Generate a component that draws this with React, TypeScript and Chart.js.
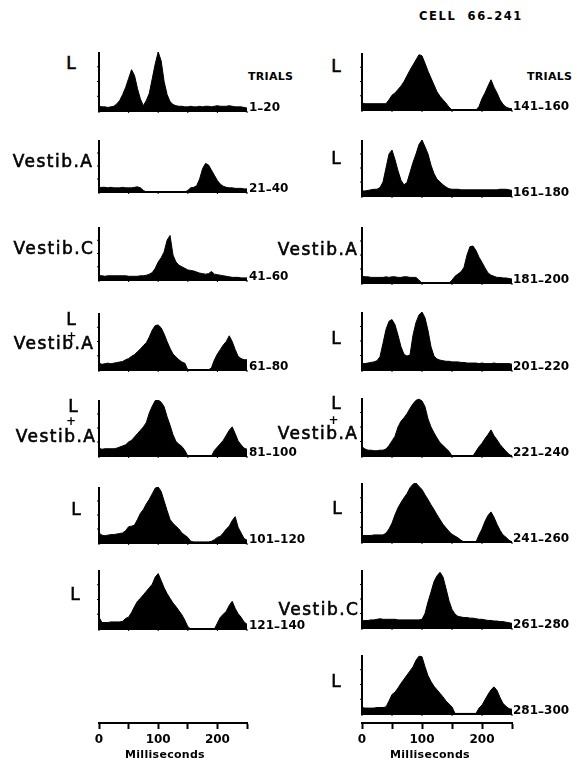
import React, { useEffect, useRef } from "react";
import { Chart, registerables } from "chart.js";

Chart.register(...registerables);

// ---------- DATA ----------
const TIMES_MS = [
  0, 5, 10, 15, 20, 25, 30, 35, 40, 45,
  50, 55, 60, 65, 70, 75, 80, 85, 90, 95,
  100, 105, 110, 115, 120, 125, 130, 135, 140, 145,
  150, 155, 160, 165, 170, 175, 180, 185, 190, 195,
  200, 205, 210, 215, 220, 225, 230, 235, 240, 245,
  250,
];

// responses, % of panel height
const TRIALS_1_20 = [8,7,7,6,7,8,12,18,28,40, 55,70,60,38,20,9,18,30,55,80, 100,85,50,28,16,11,9,8,8,7, 7,8,7,7,8,7,8,8,7,8, 9,8,8,8,9,8,7,7,7,6, 5];
const TRIALS_21_40 = [8,9,9,8,9,8,8,8,9,8, 8,8,9,10,8,3,0,0,0,0, 0,0,0,0,0,0,0,0,0,0, 3,8,9,12,25,45,55,52,42,32, 22,15,11,9,8,8,7,7,7,6, 6];
const TRIALS_41_60 = [8,8,7,8,8,8,8,8,8,8, 7,7,7,7,8,8,9,11,14,22, 34,42,53,75,84,47,34,28,25,22, 19,18,17,15,13,12,11,12,16,11, 10,9,8,7,6,5,5,5,4,4, 4];
const TRIALS_61_80 = [12,10,11,12,11,12,13,14,15,18, 20,24,27,32,37,43,48,58,70,78, 79,74,63,50,38,28,23,18,14,12, 0,0,0,0,0,0,0,0,4,18, 28,36,44,50,60,50,36,24,20,18, 18];
const TRIALS_81_100 = [14,12,13,13,13,13,14,16,18,20, 25,28,34,40,46,52,60,77,89,99, 100,96,88,70,55,38,26,21,17,10, 0,0,0,0,0,0,0,0,0,10, 16,22,28,37,46,52,40,27,20,14, 12];
const TRIALS_101_120 = [18,14,13,14,15,15,16,17,18,22, 29,30,32,42,53,60,70,78,88,98, 100,92,75,58,42,35,30,25,18,14, 10,3,2,2,2,2,2,2,3,6, 10,12,18,25,30,40,47,28,18,8, 5];
const TRIALS_121_140 = [20,11,11,11,12,12,12,12,13,18, 20,28,38,47,52,58,64,70,76,88, 94,82,70,60,52,44,38,31,24,15, 4,0,0,0,0,0,0,0,0,0, 10,20,25,30,40,47,35,26,20,12, 8];
const TRIALS_141_160 = [12,11,11,11,11,11,11,11,11,18, 26,30,36,42,50,60,70,79,88,97, 95,82,68,56,44,32,24,18,12,5, 0,0,0,0,0,0,0,0,0,6, 20,30,42,53,40,30,18,10,5,3, 2];
const TRIALS_161_180 = [9,9,10,11,12,12,15,25,50,75, 82,65,45,28,20,24,42,60,75,92, 100,88,75,55,40,30,25,20,16,13, 12,12,12,11,11,11,11,11,11,11, 11,11,11,11,11,11,12,12,12,11, 10];
const TRIALS_181_200 = [12,11,11,10,10,10,10,10,11,10, 11,11,10,10,11,11,10,10,10,5, 0,0,0,0,0,0,0,0,0,0, 5,12,16,20,28,50,65,66,58,46, 37,27,18,14,12,10,10,9,9,8, 7];
const TRIALS_201_220 = [11,11,12,13,14,16,23,46,70,84, 87,78,60,40,27,24,26,60,82,95, 100,90,68,40,24,19,17,16,15,15, 14,14,14,13,13,12,12,12,12,11, 12,11,11,11,12,11,11,11,11,11, 10];
const TRIALS_221_240 = [16,12,10,10,9,9,10,10,12,18, 26,34,50,60,66,73,82,90,96,98, 95,85,64,50,40,31,23,18,13,8, 0,0,0,0,0,0,0,0,8,16, 22,30,37,45,35,28,20,14,8,3, 0];
const TRIALS_241_260 = [11,11,11,11,12,12,12,12,15,22, 32,46,58,67,75,82,92,98,100,94, 89,80,72,63,55,46,38,30,24,18, 13,10,7,3,0,0,0,0,0,12, 22,35,45,51,42,30,20,12,8,3, 0];
const TRIALS_261_280 = [12,13,13,14,14,15,16,15,15,15, 15,15,14,14,14,14,14,14,14,14, 15,25,45,62,80,90,96,88,68,47, 32,24,20,19,18,18,17,17,16,15, 15,14,13,13,12,12,11,11,10,9, 8];
const TRIALS_281_300 = [11,10,10,10,10,11,11,11,12,22, 33,37,44,52,59,66,73,80,91,98, 97,80,65,55,47,41,35,29,22,17, 12,1,1,1,1,1,1,1,1,10, 15,24,33,41,46,40,28,18,13,9, 8];

const AXIS_TICKS_MS = [0, 50, 100, 150, 200, 250];
const AXIS_LABELS_MS = [0, 100, 200];

// ---------- LAYOUT ----------
const FONT = "'DejaVu Sans', sans-serif";
const COL_LEFT = { areaLeft: 99, areaWidth: 148 };
const COL_RIGHT = { areaLeft: 362, areaWidth: 150 };
const AXIS_Y = 723;

type PanelSpec = { values: number[]; from: number; to: number; col: 0 | 1; top: number; base: number };

const PANELS: PanelSpec[] = [
  { values: TRIALS_1_20, from: 1, to: 20, col: 0, top: 52, base: 111 },
  { values: TRIALS_21_40, from: 21, to: 40, col: 0, top: 140, base: 192 },
  { values: TRIALS_41_60, from: 41, to: 60, col: 0, top: 227, base: 280 },
  { values: TRIALS_61_80, from: 61, to: 80, col: 0, top: 313, base: 370 },
  { values: TRIALS_81_100, from: 81, to: 100, col: 0, top: 400, base: 456 },
  { values: TRIALS_101_120, from: 101, to: 120, col: 0, top: 487, base: 543 },
  { values: TRIALS_121_140, from: 121, to: 140, col: 0, top: 570, base: 629 },
  { values: TRIALS_141_160, from: 141, to: 160, col: 1, top: 53, base: 110 },
  { values: TRIALS_161_180, from: 161, to: 180, col: 1, top: 140, base: 196 },
  { values: TRIALS_181_200, from: 181, to: 200, col: 1, top: 227, base: 283 },
  { values: TRIALS_201_220, from: 201, to: 220, col: 1, top: 312, base: 370 },
  { values: TRIALS_221_240, from: 221, to: 240, col: 1, top: 398, base: 456 },
  { values: TRIALS_241_260, from: 241, to: 260, col: 1, top: 483, base: 542 },
  { values: TRIALS_261_280, from: 261, to: 280, col: 1, top: 570, base: 628 },
  { values: TRIALS_281_300, from: 281, to: 300, col: 1, top: 655, base: 714 },
];

const histAxesPlugin = {
  id: "histAxes",
  afterDatasetsDraw(chart: any) {
    const { ctx } = chart;
    const x = chart.scales.x;
    const y = chart.scales.y;
    const x0 = x.getPixelForValue(0);
    const x1 = x.getPixelForValue(250);
    const yb = y.getPixelForValue(0);
    const yt = y.getPixelForValue(100);
    ctx.save();
    ctx.strokeStyle = "#000";
    ctx.lineWidth = 2;
    ctx.beginPath();
    ctx.moveTo(x0, yt);
    ctx.lineTo(x0, yb + 1);
    ctx.moveTo(x0 - 1, yb);
    ctx.lineTo(x1, yb);
    ctx.stroke();
    ctx.lineWidth = 1;
    ctx.beginPath();
    for (const t of AXIS_TICKS_MS) {
      const px = x.getPixelForValue(t);
      ctx.moveTo(px, yb);
      ctx.lineTo(px, yb + 2);
    }
    for (const v of [25, 50, 75]) {
      const py = y.getPixelForValue(v);
      ctx.moveTo(x0, py);
      ctx.lineTo(x0 - 2, py);
    }
    ctx.stroke();
    ctx.restore();
  },
};

function HistPanel({ spec }: { spec: PanelSpec }) {
  const ref = useRef<HTMLCanvasElement>(null);
  const col = spec.col === 0 ? COL_LEFT : COL_RIGHT;
  useEffect(() => {
    const chart = new Chart(ref.current as HTMLCanvasElement, {
      type: "line",
      data: {
        datasets: [
          {
            data: TIMES_MS.map((t, i) => ({ x: t, y: spec.values[i] })),
            borderColor: "#000",
            backgroundColor: "#000",
            borderWidth: 1,
            fill: "origin",
            pointRadius: 0,
            tension: 0,
          },
        ],
      },
      options: {
        responsive: false,
        animation: false,
        events: [],
        layout: { padding: { left: 4, right: 4, top: 2, bottom: 4 } },
        plugins: { legend: { display: false }, tooltip: { enabled: false } },
        scales: {
          x: { type: "linear", min: 0, max: 250, display: false },
          y: { min: 0, max: 100, display: false },
        },
      },
      plugins: [histAxesPlugin],
    } as any);
    return () => chart.destroy();
  }, [spec]);
  return (
    <canvas
      ref={ref}
      width={col.areaWidth + 8}
      height={spec.base - spec.top + 6}
      style={{ position: "absolute", left: col.areaLeft - 4, top: spec.top - 2 }}
    />
  );
}

function TimeAxis({ col }: { col: { areaLeft: number; areaWidth: number } }) {
  const ref = useRef<HTMLCanvasElement>(null);
  useEffect(() => {
    const chart = new Chart(ref.current as HTMLCanvasElement, {
      type: "line",
      data: { datasets: [] },
      options: {
        responsive: false,
        animation: false,
        events: [],
        layout: { padding: { left: 20, right: 20, top: 0, bottom: 0 } },
        plugins: { legend: { display: false }, tooltip: { enabled: false } },
        scales: {
          x: {
            type: "linear",
            min: 0,
            max: 250,
            afterBuildTicks: (s: any) => {
              s.ticks = AXIS_TICKS_MS.map((v) => ({ value: v }));
            },
            afterFit: (s: any) => {
              s.height = 37;
            },
            ticks: {
              autoSkip: false,
              maxRotation: 0,
              padding: 4,
              color: "#000",
              font: { family: FONT, size: 12, weight: "bold" },
              callback: (v: any) => (AXIS_LABELS_MS.includes(Number(v)) ? String(v) : ""),
            },
            grid: {
              display: true,
              drawOnChartArea: false,
              drawTicks: true,
              tickLength: 6,
              tickColor: "#000",
              tickWidth: 2,
            },
            border: { display: true, color: "#000", width: 2 },
            title: { display: false },
          },
          y: { display: false, min: 0, max: 1 },
        },
      },
    } as any);
    return () => chart.destroy();
  }, [col]);
  const top = AXIS_Y - 10;
  return (
    <canvas
      ref={ref}
      width={col.areaWidth + 40}
      height={760 - top}
      style={{ position: "absolute", left: col.areaLeft - 20, top }}
    />
  );
}

// ---------- TEXT ----------
const LBL = 17; // condition label font size
const LS = 1.5;
function Cond({ text, capTop, right, left }: { text: string; capTop: number; right?: number; left?: number }) {
  const style: any = {
    position: "absolute",
    top: capTop - 2,
    fontFamily: FONT,
    fontSize: LBL,
    lineHeight: `${LBL}px`,
    letterSpacing: `${LS}px`,
    whiteSpace: "nowrap",
    color: "#000",
    WebkitTextStroke: "0.6px #000",
  };
  if (right !== undefined) style.right = 576 - right - LS;
  if (left !== undefined) style.left = left - 1.7;
  return <div style={style}>{text}</div>;
}

function Plus({ cx, cy }: { cx: number; cy: number }) {
  return (
    <div
      style={{
        position: "absolute",
        left: cx - 10,
        top: cy - 6,
        width: 20,
        textAlign: "center",
        fontFamily: FONT,
        fontWeight: "bold",
        fontSize: 12,
        lineHeight: "12px",
        color: "#000",
      }}
    >
      +
    </div>
  );
}

function Small({ children, left, top, ls = 0.3, size = 11 }: { children: any; left: number; top: number; ls?: number; size?: number }) {
  return (
    <div
      style={{
        position: "absolute",
        left,
        top,
        fontFamily: FONT,
        fontWeight: "bold",
        fontSize: size,
        lineHeight: `${size}px`,
        letterSpacing: `${ls}px`,
        whiteSpace: "nowrap",
        color: "#000",
      }}
    >
      {children}
    </div>
  );
}

function Range({ from, to, left, base }: { from: number; to: number; left: number; base: number }) {
  return (
    <Small left={left} top={base - 10} size={12} ls={0}>
      {from}
      <span style={{ position: "relative", top: 2 }}>–</span>
      {to}
    </Small>
  );
}

export default function App() {
  return (
    <div
      style={{
        position: "fixed",
        left: 0,
        top: 0,
        width: 576,
        height: 760,
        overflow: "hidden",
        background: "#fff",
      }}
    >
      <Small left={419} top={11} ls={1.6} size={11.5}>
        CELL&nbsp; 66<span style={{ position: "relative", top: 2 }}>–</span>241
      </Small>
      <Small left={248} top={71}>TRIALS</Small>
      <Small left={527} top={71}>TRIALS</Small>

      {PANELS.map((p) => (
        <HistPanel key={p.from} spec={p} />
      ))}
      {PANELS.map((p) => (
        <Range key={"r" + p.from} from={p.from} to={p.to} left={p.col === 0 ? 249 : 513} base={p.base} />
      ))}

      {/* left column condition labels */}
      <Cond text="L" capTop={57} left={68} />
      <Cond text="Vestib.A" capTop={155} right={92} />
      <Cond text="Vestib.C" capTop={242} right={93} />
      <Cond text="L" capTop={313} left={68} />
      <Plus cx={71.5} cy={335.5} />
      <Cond text="Vestib.A" capTop={337} right={93} />
      <Cond text="L" capTop={400} left={70} />
      <Plus cx={71} cy={421} />
      <Cond text="Vestib.A" capTop={430} right={95} />
      <Cond text="L" capTop={503} left={73} />
      <Cond text="L" capTop={588} left={72} />

      {/* right column condition labels */}
      <Cond text="L" capTop={60} left={333} />
      <Cond text="L" capTop={152} left={333} />
      <Cond text="Vestib.A" capTop={243} right={357} />
      <Cond text="L" capTop={332} left={333} />
      <Cond text="L" capTop={397} left={333} />
      <Plus cx={333.5} cy={419.5} />
      <Cond text="Vestib.A" capTop={427} right={357} />
      <Cond text="L" capTop={502} left={334} />
      <Cond text="Vestib.C" capTop={603} right={358} />
      <Cond text="L" capTop={675} left={333} />

      <TimeAxis col={COL_LEFT} />
      <TimeAxis col={COL_RIGHT} />
      <Small left={125} top={749} ls={0.3}>Milliseconds</Small>
      <Small left={390} top={749} ls={0.3}>Milliseconds</Small>
    </div>
  );
}
